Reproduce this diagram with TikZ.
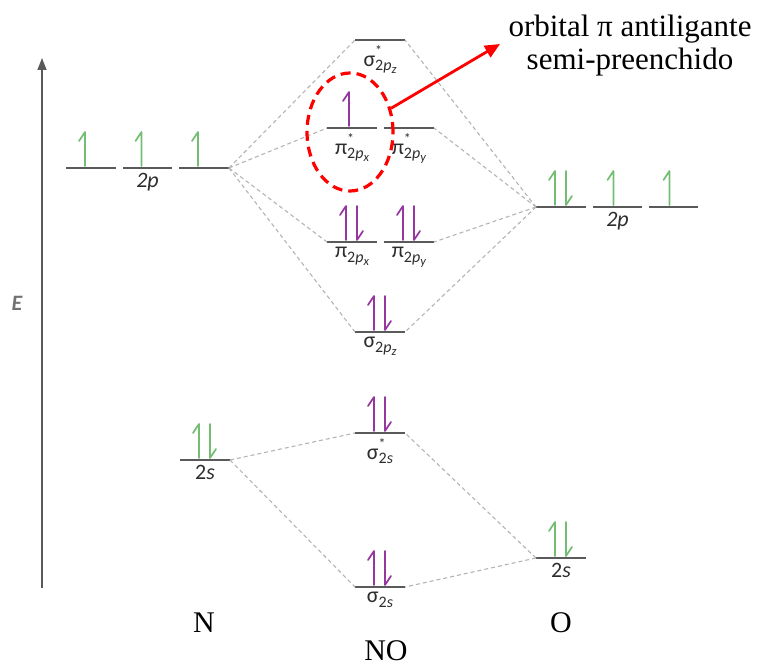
\documentclass[tikz,border=0pt]{standalone}
\usepackage{fontspec}
\setmainfont{Liberation Serif}
\newfontfamily\lab{Carlito}
\usetikzlibrary{arrows.meta,shapes.geometric}
\definecolor{eg}{RGB}{115,190,115}
\definecolor{ep}{RGB}{150,55,160}
\definecolor{lv}{RGB}{90,90,90}
\definecolor{cn}{RGB}{180,180,180}
\definecolor{tx}{RGB}{45,45,45}
\newcommand\lvl[4]{%
  \coordinate (#1-l) at (#2,#4); \coordinate (#1-r) at (#3,#4);
  \coordinate (#1) at ({(#2+#3)/2},#4);
  \draw[levelline] (#1-l) -- (#1-r);}
\newcommand\eup[3]{\draw[elec,#3] ([xshift=#2pt,yshift=2pt]#1) -- ++(0,-34) -- ++(-6,9);}
\newcommand\edn[3]{\draw[elec,#3] ([xshift=#2pt,yshift=2pt]#1) ++(0,-34) -- ++(0,34) -- ++(6,-9);}
\newcommand\pair[2]{\eup{#1}{-6}{#2}\edn{#1}{5}{#2}}
\newcommand\sbb[1]{\raisebox{-0.45ex}{\fontsize{16}{16}\selectfont #1}}
\newcommand\ssb[1]{\raisebox{-0.35ex}{\fontsize{12.5}{12.5}\selectfont\textit{#1}}}
\newcommand\st{\rlap{\raisebox{1.05ex}{\fontsize{14}{14}\selectfont *}}}
\begin{document}
\begin{tikzpicture}[x=1pt,y=-1pt,
  levelline/.style={draw=lv,line width=1.8pt},
  conn/.style={draw=cn,line width=1.1pt,dash pattern=on 4pt off 3pt},
  elec/.style={line width=1.7pt,line cap=round,line join=round},
  olab/.style={anchor=north,inner sep=0pt,text=tx,font=\lab\fontsize{22}{22}\selectfont},
  big/.style={inner sep=0pt,font=\fontsize{30}{32}\selectfont,text=black}]
\useasboundingbox (0,0) rectangle (758,666);
% axis
\coordinate (ax0) at (42,588); \coordinate (ax1) at (42,58);
\draw[draw=lv,line width=1.5pt,-{Triangle[length=12pt,width=9pt]}] (ax0) -- (ax1);
\node[inner sep=0pt,text=lv!85,font=\lab\bfseries\itshape\fontsize{22}{22}\selectfont] (E) at (17,303) {E};
% levels
\lvl{na}{66}{116}{168}\lvl{nb}{123}{172}{168}\lvl{nc}{179}{229}{168}
\lvl{oa}{536}{586}{207}\lvl{ob}{593}{642}{207}\lvl{oc}{649}{698}{207}
\lvl{ssp}{355}{405}{40}
\lvl{ppa}{327}{377}{128}\lvl{ppb}{384}{434}{128}
\lvl{pa}{327}{377}{242}\lvl{pb}{384}{434}{242}
\lvl{sp}{355}{405}{332}
\lvl{ns}{180}{230}{460}
\lvl{sss}{355}{405}{433}
\lvl{ss}{355}{405}{587}
\lvl{os}{536}{586}{558}
% connectors
\foreach \t in {ssp,sp}{\draw[conn] (nc-r) -- (\t-l); \draw[conn] (oa-l) -- (\t-r);}
\draw[conn] (nc-r) -- (ppa-l); \draw[conn] (oa-l) -- (ppb-r);
\draw[conn] (nc-r) -- (pa-l); \draw[conn] (oa-l) -- (pb-r);
\draw[conn] (ns-r) -- (sss-l); \draw[conn] (ns-r) -- (ss-l);
\draw[conn] (os-l) -- (sss-r); \draw[conn] (os-l) -- (ss-r);
% electrons
\eup{na}{-6}{eg}\eup{nb}{-6}{eg}\eup{nc}{-6}{eg}
\pair{oa}{eg}\eup{ob}{-4}{eg}\eup{oc}{-4}{eg}
\eup{ppa}{-3}{ep}
\pair{pa}{ep}\pair{pb}{ep}\pair{sp}{ep}
\pair{ns}{eg}\pair{sss}{ep}\pair{ss}{ep}\pair{os}{eg}
% orbital labels
\node[olab] (l1) at ([yshift=-5pt]nb) {\textit{2p}};
\node[olab] (l2) at ([yshift=-5pt]ob) {\textit{2p}};
\node[olab] (l3) at ([yshift=-5pt]ssp) {σ\st\sbb{2\textit{p}\ssb{z}}};
\node[olab] (l4) at ([yshift=-5pt]ppa) {π\st\sbb{2\textit{p}\ssb{x}}};
\node[olab] (l5) at ([yshift=-5pt]ppb) {π\st\sbb{2\textit{p}\ssb{y}}};
\node[olab] (l6) at ([yshift=-5pt]pa) {π\sbb{2\textit{p}\ssb{x}}};
\node[olab] (l7) at ([yshift=-5pt]pb) {π\sbb{2\textit{p}\ssb{y}}};
\node[olab] (l8) at ([yshift=-5pt]sp) {σ\sbb{2\textit{p}\ssb{z}}};
\node[olab] (l9) at ([yshift=-5pt]ns) {2\textit{s}};
\node[olab] (l10) at ([yshift=-5pt]sss) {σ\st\sbb{2\textit{s}}};
\node[olab] (l11) at ([yshift=-5pt]ss) {σ\sbb{2\textit{s}}};
\node[olab] (l12) at ([yshift=-5pt]os) {2\textit{s}};
% bottom labels
\node[big,anchor=base] (N) at (204,632) {N};
\node[big,anchor=base] (O) at (561,632) {O};
\node[big,anchor=base] (NO) at (386,660) {NO};
% annotation
\node[draw=red,dashed,dash pattern=on 10pt off 6pt,line width=3.2pt,ellipse,minimum width=86pt,minimum height=118pt,inner sep=0pt] (ell) at (350,132) {};
\node[inner sep=0pt,text=black,font=\fontsize{31}{33}\selectfont,align=center,anchor=north] (ann) at (630,15) {orbital π antiligante\\semi-preenchido};
\coordinate (tip) at (500,44);
\draw[red,line width=2.8pt,-{Triangle[length=15pt,width=13pt]}] (ell.30) -- (tip);
\end{tikzpicture}
\end{document}
